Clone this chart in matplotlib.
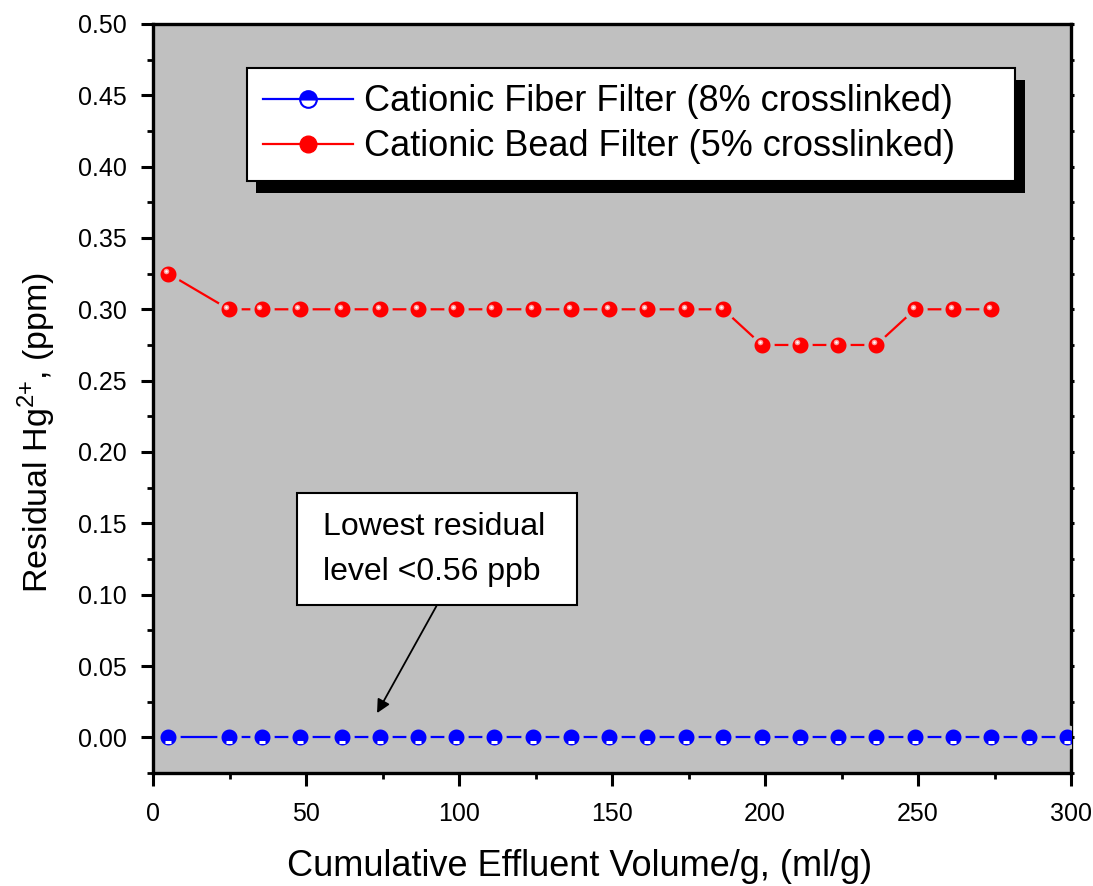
import matplotlib
matplotlib.use('Agg')
import matplotlib.pyplot as plt
from matplotlib.ticker import MultipleLocator, FormatStrFormatter
from matplotlib.lines import Line2D
from matplotlib.patches import Rectangle
import matplotlib.transforms as mtransforms
import matplotlib.patheffects as pe

plt.rcParams['font.family'] = ['Liberation Sans', 'DejaVu Sans']
plt.rcParams['mathtext.fontset'] = 'custom'
plt.rcParams['mathtext.rm'] = 'Liberation Sans'

# data
fiber_x = [5, 24.8, 35.6, 48, 61.8, 74.2, 86.6, 99, 111.4, 124.2, 136.6, 149,
           161.4, 174.2, 186.3, 199, 211.4, 223.9, 236.3, 249, 261.4, 273.9,
           286.3, 298.7]
fiber_y = [0.0] * 24
bead_x = [5, 24.8, 35.6, 48, 61.8, 74.2, 86.6, 99, 111.4, 124.2, 136.6, 149,
          161.4, 174.2, 186.3, 199, 211.4, 223.9, 236.3, 249, 261.4, 273.9]
bead_y = [0.325, 0.30, 0.30, 0.30, 0.30, 0.30, 0.30, 0.30, 0.30, 0.30, 0.30,
          0.30, 0.30, 0.30, 0.30, 0.275, 0.275, 0.275, 0.275, 0.30, 0.30, 0.30]

labels = ['Cationic Fiber Filter (8% crosslinked)',
          'Cationic Bead Filter (5% crosslinked)']

bg = '#c0c0c0'

fig = plt.figure(figsize=(10.93, 8.86), dpi=100)
ax = fig.add_axes([0.140, 0.1275, 0.840, 0.8455])
ax.set_facecolor(bg)

# gray marker edge leaves the small gaps between line and markers
ax.plot(fiber_x, fiber_y, color='blue', lw=1.6, marker='o', ms=14.5,
        mfc='blue', mec=bg, mew=3.0, zorder=3)
ax.plot(bead_x, bead_y, color='red', lw=1.6, marker='o', ms=14.5,
        mfc='red', mec=bg, mew=3.0, zorder=3)

# little highlights on the markers
dpi_tr = fig.dpi_scale_trans
low = ax.transData + mtransforms.ScaledTranslation(0, -4.8 / 100, dpi_tr)
ax.plot(fiber_x, fiber_y, ls='none', marker='_', ms=5, mew=2.2, color='white',
        transform=low, zorder=4)
up = ax.transData + mtransforms.ScaledTranslation(-2.5 / 100, 2.5 / 100, dpi_tr)
ax.plot(bead_x, bead_y, ls='none', marker='o', ms=4, mew=0, mfc='#ff9a9a',
        transform=up, zorder=4)
ax.plot(bead_x, bead_y, ls='none', marker='o', ms=1.8, mew=0, mfc='white',
        transform=up, zorder=5)

ax.set_xlim(0, 300)
ax.set_ylim(-0.025, 0.50)
ax.xaxis.set_major_locator(MultipleLocator(50))
ax.xaxis.set_minor_locator(MultipleLocator(25))
ax.yaxis.set_major_locator(MultipleLocator(0.05))
ax.yaxis.set_minor_locator(MultipleLocator(0.025))
ax.yaxis.set_major_formatter(FormatStrFormatter('%.2f'))

for s in ax.spines.values():
    s.set_linewidth(2.4)
ax.tick_params(which='major', direction='out', length=9, width=2.2,
               labelsize=18, pad=10)
ax.tick_params(axis='x', which='major', pad=12)
ax.tick_params(which='minor', direction='out', length=4.5, width=2.0)
ax.tick_params(axis='y', which='both', right=True, labelright=False)
for t in ax.yaxis.get_major_ticks() + ax.yaxis.get_minor_ticks():
    t.tick2line.set_markersize(2)

ax.set_xlabel('Cumulative Effluent Volume/g, (ml/g)', fontsize=26)
ax.xaxis.set_label_coords(0.465, -0.101)
ax.set_ylabel('Residual Hg$^{\\mathregular{2{+}}}$, (ppm)', fontsize=24.5)
ax.yaxis.set_label_coords(-0.104, 0.455)

# legend with proxy handles (no gaps there)
h_fiber = Line2D([], [], color='blue', lw=1.6, marker='o', ms=12,
                 fillstyle='top', mfc='blue', mfcalt='white', mec='blue', mew=1.5)
h_bead = Line2D([], [], color='red', lw=1.6, marker='o', ms=12,
                mfc='red', mec='red', mew=1)
leg = ax.legend([h_fiber, h_bead], labels, loc='upper left',
                bbox_to_anchor=(0.102, 0.941, 0.837, 0.0), mode='expand',
                fontsize=26, frameon=True, fancybox=False, borderpad=0.45,
                handlelength=2.5, handletextpad=0.3, labelspacing=0.28,
                borderaxespad=0)
fr = leg.get_frame()
fr.set_edgecolor('black')
fr.set_linewidth(1.5)
fr.set_alpha(1)
fr.set_path_effects([pe.SimplePatchShadow(offset=(7, -8.5), shadow_rgbFace='black',
                                          alpha=1), pe.Normal()])

# annotation box and arrow
ax.add_patch(Rectangle((0.157, 0.224), 0.305, 0.150, transform=ax.transAxes,
                       fc='white', ec='black', lw=1.5, zorder=5))
ax.text(0.185, 0.299, 'Lowest residual\nlevel <0.56 ppb', transform=ax.transAxes,
        fontsize=23, ha='left', va='center', linespacing=1.65, zorder=6)
ax.annotate('', xy=(73.2, 0.017), xytext=(92.6, 0.092),
            arrowprops=dict(arrowstyle='-|>', color='black', lw=1.3,
                            mutation_scale=20, shrinkA=0, shrinkB=0))

fig.savefig('out.png', dpi=100)
